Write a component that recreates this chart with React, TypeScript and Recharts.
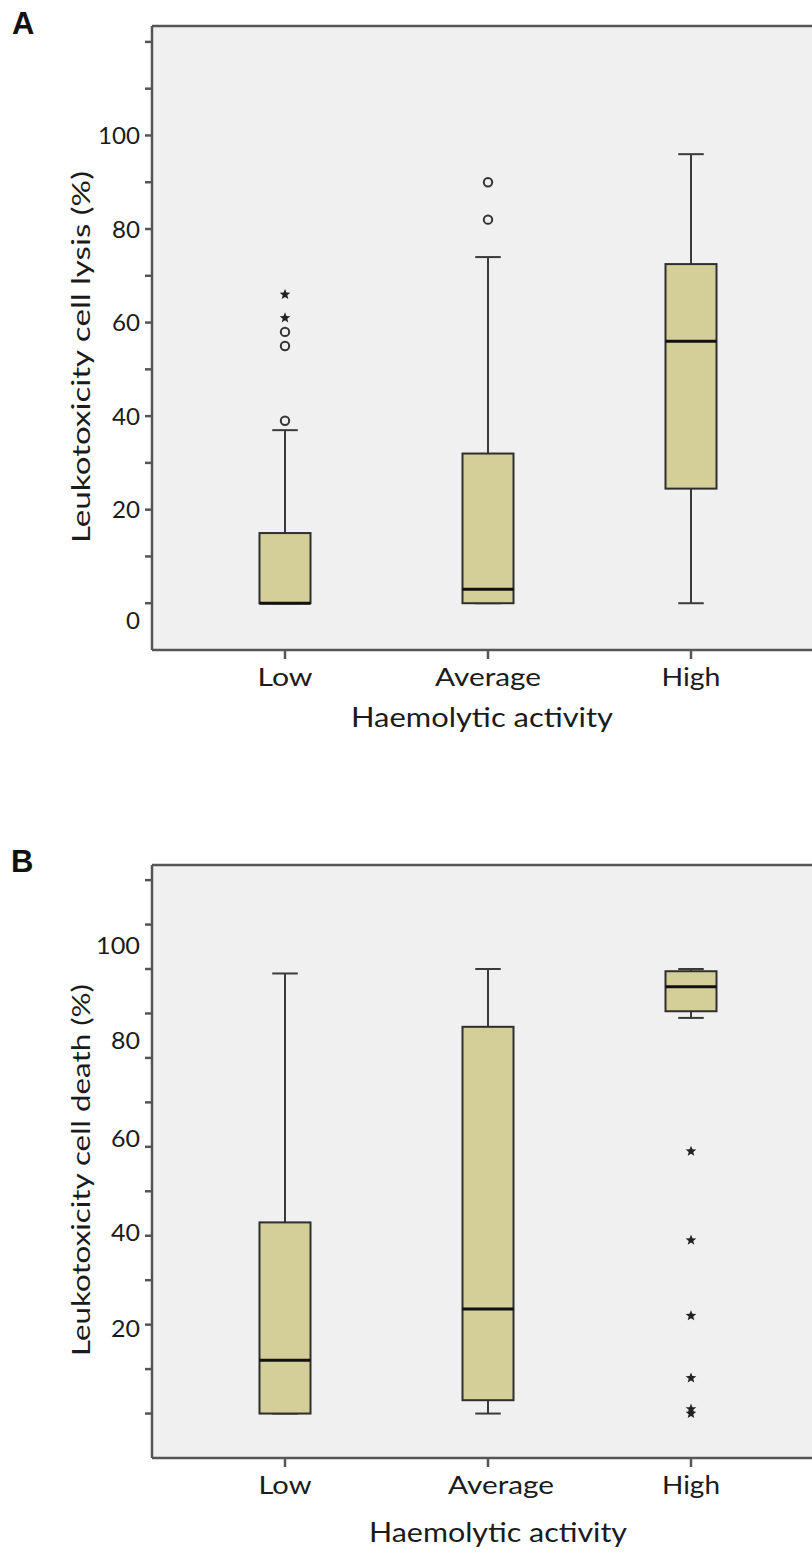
import React from 'react';
import { ComposedChart, Bar, XAxis, YAxis, CartesianGrid, ReferenceLine, Label } from 'recharts';

// ---------- data ----------
const categories = ['Low', 'Average', 'High'];

// Panel A: Leukotoxicity cell lysis (%)
const lysisMin = [0, 0, 0];
const lysisQ1 = [0, 0, 24.5];
const lysisMedian = [0, 3, 56];
const lysisQ3 = [15, 32, 72.5];
const lysisMax = [37, 74, 96];
const lysisCircles = [[39, 55, 58], [82, 90], []];
const lysisStars = [[61, 66], [], []];

// Panel B: Leukotoxicity cell death (%)
const deathMin = [0, 0, 89];
const deathQ1 = [0, 3, 90.5];
const deathMedian = [12, 23.5, 96];
const deathQ3 = [43, 87, 99.5];
const deathMax = [99, 100, 100];
const deathCircles = [[], [], []];
const deathStars = [[], [], [59, 39, 22, 8, 1, 0]];

const yTicks = [0, 10, 20, 30, 40, 50, 60, 70, 80, 90, 100, 110, 120];
const yLabelsA = [0, 20, 40, 60, 80, 100];
const yLabelsB = [20, 40, 60, 80, 100];
const yDomain = [-10, 123.4];

function buildRows(min: number[], q1: number[], med: number[], q3: number[], max: number[], circles: number[][], stars: number[][]) {
  return categories.map((name, i) => ({
    name,
    range: [min[i], max[i]],
    min: min[i],
    q1: q1[i],
    median: med[i],
    q3: q3[i],
    max: max[i],
    circles: circles[i],
    stars: stars[i],
  }));
}

const rowsA = buildRows(lysisMin, lysisQ1, lysisMedian, lysisQ3, lysisMax, lysisCircles, lysisStars);
const rowsB = buildRows(deathMin, deathQ1, deathMedian, deathQ3, deathMax, deathCircles, deathStars);

// ---------- styling ----------
const FONT = 'Lato, "Open Sans", sans-serif';
const TEXT = '#1b1b1b';
const AXIS = '#555555';
const BOX_FILL = '#d4cf99';
const LINE = '#3a3a3a';

function starPath(cx: number, cy: number, R: number, r: number) {
  let d = '';
  for (let k = 0; k < 10; k++) {
    const a = (-90 + k * 36) * Math.PI / 180;
    const rad = k % 2 === 0 ? R : r;
    d += (k === 0 ? 'M' : 'L') + (cx + rad * Math.cos(a)).toFixed(2) + ',' + (cy + rad * Math.sin(a)).toFixed(2);
  }
  return d + 'Z';
}

const BoxShape = (props: any) => {
  const { x, y, width, height, payload } = props;
  if (!payload) return null;
  const span = payload.max - payload.min;
  const h = Math.abs(height);
  const top = Math.min(y, y + height);
  const ppu = h / span;
  const yOf = (v: number) => top + (payload.max - v) * ppu;
  const cx = x + width / 2;
  const capHalf = width / 4;
  const yMax = yOf(payload.max);
  const yMin = yOf(payload.min);
  const yQ1 = yOf(payload.q1);
  const yQ3 = yOf(payload.q3);
  const yMed = yOf(payload.median);
  return (
    <g>
      {yMax < yQ3 - 0.5 && <line x1={cx} x2={cx} y1={yMax} y2={yQ3} stroke={LINE} strokeWidth={2} />}
      {yMin > yQ1 + 0.5 && <line x1={cx} x2={cx} y1={yQ1} y2={yMin} stroke={LINE} strokeWidth={2} />}
      <line x1={cx - capHalf} x2={cx + capHalf} y1={yMax} y2={yMax} stroke={LINE} strokeWidth={2} />
      <line x1={cx - capHalf} x2={cx + capHalf} y1={yMin} y2={yMin} stroke={LINE} strokeWidth={2} />
      <rect x={x} y={yQ3} width={width} height={Math.max(yQ1 - yQ3, 0)} fill={BOX_FILL} stroke="#2e2e2e" strokeWidth={2} />
      <line x1={x} x2={x + width} y1={yMed} y2={yMed} stroke="#111" strokeWidth={3} />
      {payload.circles.map((v: number, i: number) => (
        <circle key={'c' + i} cx={cx} cy={yOf(v)} r={4.2} fill="none" stroke="#333" strokeWidth={2} />
      ))}
      {payload.stars.map((v: number, i: number) => (
        <path key={'s' + i} d={starPath(cx, yOf(v), 5.6, 2.4)} fill="#222" />
      ))}
    </g>
  );
};

const makeYTick = (shown: number[], fontSize: number, dyMap: Record<number, number>, widths: Record<number, number>) => (props: any) => {
  const { x, y, payload } = props;
  const v = payload.value;
  if (!shown.includes(v)) return <g />;
  const txt = String(v);
  const dy = dyMap[v] || 0;
  return (
    <text
      x={x}
      y={y + dy + fontSize * 0.36}
      textAnchor="end"
      fontFamily={FONT}
      fontSize={fontSize}
      fill={TEXT}
      textLength={widths[txt.length]}
      lengthAdjust="spacingAndGlyphs"
    >
      {txt}
    </text>
  );
};

const makeXTick = (fontSize: number, dxMap: Record<string, number>, widths: Record<string, number>, base: number) => (props: any) => {
  const { x, y, payload } = props;
  const v = payload.value;
  return (
    <text
      x={x + (dxMap[v] || 0)}
      y={y + base}
      textAnchor="middle"
      fontFamily={FONT}
      fontSize={fontSize}
      fill={TEXT}
      textLength={widths[v]}
      lengthAdjust="spacingAndGlyphs"
    >
      {v}
    </text>
  );
};

const makeXTitle = (text: string, cx: number, below: number, len: number) => (props: any) => {
  const vb = props.viewBox || {};
  return (
    <text x={cx} y={vb.y + below} textAnchor="middle" fontFamily={FONT} fontSize={26} fill={TEXT}
      textLength={len} lengthAdjust="spacingAndGlyphs">
      {text}
    </text>
  );
};

const makeYTitle = (text: string, bx: number, shift: number, len: number) => (props: any) => {
  const vb = props.viewBox || {};
  const cy = vb.y + vb.height / 2 + shift;
  return (
    <text x={bx} y={cy} transform={`rotate(-90 ${bx} ${cy})`} textAnchor="middle" fontFamily={FONT} fontSize={25}
      fill={TEXT} textLength={len} lengthAdjust="spacingAndGlyphs">
      {text}
    </text>
  );
};

type PanelProps = {
  rows: any[];
  height: number;
  top: number;
  xAxisHeight: number;
  yTick: any;
  xTick: any;
  xTitle: any;
  yTitle: any;
};

const Panel = ({ rows, height, top, xAxisHeight, yTick, xTick, xTitle, yTitle }: PanelProps) => (
  <ComposedChart width={824} height={height} data={rows} margin={{ top, right: 0, bottom: 0, left: 0 }}>
    <CartesianGrid fill="#f0f0f0" horizontal={false} vertical={false} />
    <ReferenceLine y={yDomain[1]} stroke={AXIS} strokeWidth={2.5} />
    <XAxis
      dataKey="name"
      type="category"
      padding={{ left: 31.5, right: 31.5 }}
      height={xAxisHeight}
      axisLine={{ stroke: AXIS, strokeWidth: 2.5 }}
      tickLine={{ stroke: AXIS, strokeWidth: 2.5 }}
      tickSize={9}
      tickMargin={0}
      tick={xTick}
      interval={0}
    >
      <Label content={xTitle} />
    </XAxis>
    <YAxis
      type="number"
      domain={yDomain}
      ticks={yTicks}
      interval={0}
      allowDataOverflow
      width={152}
      axisLine={{ stroke: AXIS, strokeWidth: 2.5 }}
      tickLine={{ stroke: AXIS, strokeWidth: 2.5 }}
      tickSize={7}
      tickMargin={5}
      tick={yTick}
    >
      <Label content={yTitle} />
    </YAxis>
    <Bar dataKey="range" barSize={51} shape={BoxShape} isAnimationActive={false} />
  </ComposedChart>
);

export default function App() {
  return (
    <div style={{ position: 'absolute', left: 0, top: 0, width: 812, height: 1556, overflow: 'hidden', background: '#fff' }}>
      <div style={{ position: 'absolute', left: 0, top: 0 }}>
        <Panel
          rows={rowsA}
          height={760}
          top={26}
          xAxisHeight={110}
          yTick={makeYTick(yLabelsA, 24, { 0: 17 }, { 1: 14, 2: 28, 3: 42 })}
          xTick={makeXTick(25, {}, { Low: 55, Average: 106, High: 59 }, 27)}
          xTitle={makeXTitle('Haemolytic activity', 482, 77, 262)}
          yTitle={makeYTitle('Leukotoxicity cell lysis (%)', 90, 19, 372)}
        />
      </div>
      <div style={{ position: 'absolute', left: 0, top: 780 }}>
        <Panel
          rows={rowsB}
          height={776}
          top={85}
          xAxisHeight={98}
          yTick={makeYTick(yLabelsB, 23, { 100: -23, 80: -17, 60: -8, 40: -3, 20: 4 }, { 1: 14.5, 2: 29, 3: 44 })}
          xTick={makeXTick(25, { Average: 13 }, { Low: 53, Average: 106, High: 58 }, 27)}
          xTitle={makeXTitle('Haemolytic activity', 498, 84, 258)}
          yTitle={makeYTitle('Leukotoxicity cell death (%)', 90, 8.5, 372)}
        />
      </div>
      <svg width={812} height={1556} style={{ position: 'absolute', left: 0, top: 0, pointerEvents: 'none' }}>
        <text x={12} y={34} fontFamily='"Liberation Sans", Arial, sans-serif' fontWeight="bold" fontSize={31} fill="#111">A</text>
        <text x={11} y={872} fontFamily='"Liberation Sans", Arial, sans-serif' fontWeight="bold" fontSize={31} fill="#111">B</text>
      </svg>
    </div>
  );
}
